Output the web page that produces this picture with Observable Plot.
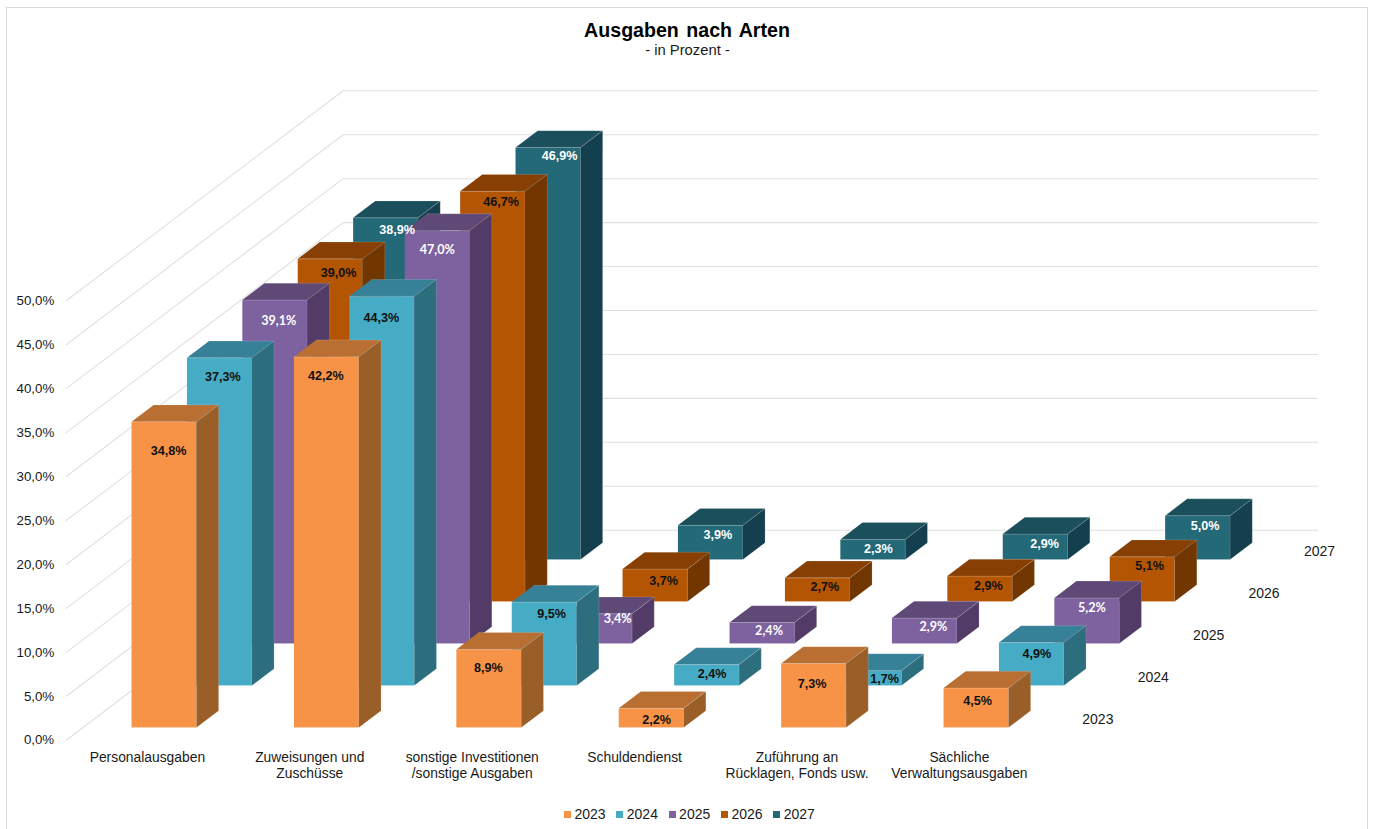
<!DOCTYPE html>
<html lang="de">
<head>
<meta charset="utf-8">
<title>Ausgaben nach Arten</title>
<script src="https://cdn.jsdelivr.net/npm/d3@7"></script>
<script src="https://cdn.jsdelivr.net/npm/@observablehq/plot@0.6"></script>
<style>
  html, body { margin: 0; padding: 0; background: #fff; }
  body { font-family: "Liberation Sans", Arial, sans-serif; color: #1a1a1a; }
  #page { position: relative; width: 1375px; height: 829px; overflow: hidden; }
  #frame { position: absolute; left: 6px; top: 7px; width: 1360px; height: 840px; border: 1.4px solid #d9d9d9; pointer-events: none; }
  #head { height: 70px; text-align: center; position: relative; }
  #head h1 { position: absolute; left: -0.5px; width: 1375px; top: 19px; margin: 0; font-size: 19.6px; line-height: 22px; font-weight: bold; color: #000; word-spacing: 2px; }
  #head p { position: absolute; left: 0; width: 1375px; top: 42px; margin: 0; font-size: 14.8px; line-height: 17px; color: #1a1a1a; }
  #chart svg { display: block; }
  #legend { position: absolute; left: 564px; top: 806px; display: flex; font-size: 14px; line-height: 16px; }
  #legend span.item { display: flex; align-items: center; width: 52.3px; }
  #legend i { display: block; width: 7px; height: 7px; margin-right: 3.5px; }
</style>
</head>
<body>
<div id="page">
  <div id="frame"></div>
  <div id="head"><h1>Ausgaben nach Arten</h1><p>- in Prozent -</p></div>
  <div id="chart"></div>
  <div id="legend"></div>
</div>
<script>
// ---- data ----
const categories = ["Personalausgaben", "Zuweisungen und\nZuschüsse", "sonstige Investitionen\n/sonstige Ausgaben", "Schuldendienst", "Zuführung an\nRücklagen, Fonds usw.", "Sächliche\nVerwaltungsausgaben"];
const years = ["2023", "2024", "2025", "2026", "2027"];
const values2023 = [34.8, 42.2, 8.9, 2.2, 7.3, 4.5];
const values2024 = [37.3, 44.3, 9.5, 2.4, 1.7, 4.9];
const values2025 = [39.1, 47.0, 3.4, 2.4, 2.9, 5.2];
const values2026 = [39.0, 46.7, 3.7, 2.7, 2.9, 5.1];
const values2027 = [38.9, 46.9, 3.9, 2.3, 2.9, 5.0];
const seriesValues = [values2023, values2024, values2025, values2026, values2027];
const yTicks = [0, 5, 10, 15, 20, 25, 30, 35, 40, 45, 50];

// ---- styling ----
const frontColors = ["#F69346", "#46ABC4", "#7E62A0", "#B45504", "#246977"];
const topColors   = ["#B96F32", "#378198", "#5F4A77", "#873F03", "#1B4F5B"];
const sideColors  = ["#9A5F28", "#2C6E7E", "#523B66", "#723600", "#143F4E"];
const labelColors = ["#111", "#111", "#fff", "#111", "#fff"];
// nudges of the value labels from the bar's centre/top edge, in screen pixels
const labelNudgeX = [
  [5, 0, 0, 6, -1, 2], [4, 0, 8, 6, 16, 6], [4, 0, 18, 7, 9, 5], [9, 9, 9, 8, 9, 8], [12, 12, 8, 6, 10, 8]];
const labelNudgeY = [
  [29, 19, 19, 12, 21, 13], [19, 22, 12, 9, 8, 11], [21, 19, 5, 8, 9, 10], [14, 11, 12, 9, 10, 9], [12, 9, 10, 10, 10, 10]];

// ---- oblique projection: category position + depth → plot x, value + depth → plot y ----
const pxPerCat = 162.4, pxPerPct = 8.788, depthX = 55.4, depthY = 42;
const kx = depthX / pxPerCat, ky = depthY / pxPerPct;
const px = (c, d) => c + d * kx;
const py = (v, d) => v + d * ky;
const barFrom = 0.3, barSize = 0.4;
const fmt = v => v.toFixed(1).replace(".", ",") + "%";

// ---- build faces, back row first so nearer bars paint over farther ones ----
const faces = [];
const labels = [];
for (let s = years.length - 1; s >= 0; s--) {
  categories.forEach((_, c) => {
    const v = seriesValues[s][c];
    const x0 = c + barFrom, x1 = x0 + barSize;
    const d0 = s + barFrom, d1 = d0 + barSize;
    const face = (kind, color, pts) => pts.forEach(([cc, dd, vv]) =>
      faces.push({id: `${s}-${c}-${kind}`, color, x: px(cc, dd), y: py(vv, dd)}));
    face("front", frontColors[s], [[x0, d0, 0], [x1, d0, 0], [x1, d0, v], [x0, d0, v]]);
    face("top", topColors[s], [[x0, d0, v], [x1, d0, v], [x1, d1, v], [x0, d1, v]]);
    face("side", sideColors[s], [[x1, d0, 0], [x1, d1, 0], [x1, d1, v], [x1, d0, v]]);
    labels.push({
      s, text: fmt(v), color: labelColors[s],
      x: px(x0 + barSize / 2, d0) + labelNudgeX[s][c] / pxPerCat,
      y: py(v, d0) - labelNudgeY[s][c] / pxPerPct
    });
  });
}

// gridlines: up the left wall, then along the back wall
const backDepth = years.length, backCat = categories.length;
const grid = yTicks.flatMap(t => [
  {t, x: px(0, 0), y: py(t, 0)},
  {t, x: px(0, backDepth), y: py(t, backDepth)},
  {t, x: px(backCat, backDepth), y: py(t, backDepth)}
]);

const fontFamily = '"Liberation Sans", Arial, sans-serif';
const plot = Plot.plot({
  width: 1375, height: 720,
  marginLeft: 65.7, marginRight: 57, marginTop: 20, marginBottom: 50.3,
  style: {fontFamily, background: "transparent", overflow: "visible"},
  x: {axis: null, domain: [0, (1318 - 65.7) / pxPerCat], range: [65.7, 1318]},
  y: {axis: null, domain: [0, (669.7 - 20) / pxPerPct], range: [669.7, 20]},
  marks: [
    Plot.line(grid, {x: "x", y: "y", z: "t", stroke: "#e0e0e0", strokeWidth: 1.1}),
    Plot.axisY({ticks: yTicks, tickSize: 0, tickPadding: 12, label: null, fontSize: 13.3, fill: "#1a1a1a",
      tickFormat: fmt}),
    Plot.line(faces, {x: "x", y: "y", z: "id", fill: "color", stroke: "#ffffff", strokeOpacity: 0.25, strokeWidth: 0.6}),
    Plot.text(labels.filter(d => d.s !== 2), {x: "x", y: "y", text: "text", fill: "color", fontSize: 12.6, fontWeight: "bold", dx: -0.5}),
    Plot.text(labels.filter(d => d.s === 2), {x: "x", y: "y", text: "text", fill: "color", fontSize: 12.6, fontWeight: "bold", fontFamily: "Lato"}),
    Plot.text(categories, {x: (d, i) => i + 0.5, y: () => 0, text: d => d, fontSize: 13.85, fill: "#1a1a1a",
      lineAnchor: "top", lineHeight: 1.16, dy: 10}),
    Plot.text(years, {x: (d, i) => px(backCat, i + 0.5), y: (d, i) => py(0, i + 0.5), text: d => d,
      fontSize: 14, fill: "#1a1a1a", textAnchor: "start", dx: 14})
  ]
});
document.getElementById("chart").append(plot);

const legend = document.getElementById("legend");
years.forEach((y, i) => {
  const item = document.createElement("span");
  item.className = "item";
  const sw = document.createElement("i");
  sw.style.background = frontColors[i];
  item.append(sw, y);
  legend.append(item);
});
</script>
</body>
</html>
